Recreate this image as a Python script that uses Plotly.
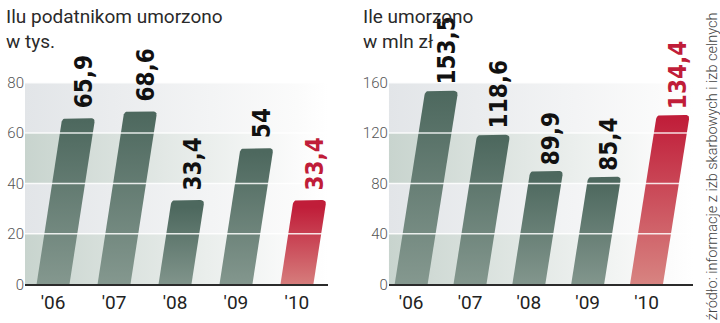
import plotly.graph_objects as go

# ---- data ----
years = ["'06", "'07", "'08", "'09", "'10"]
taxpayers_k = [65.9, 68.6, 33.4, 54, 33.4]          # Ilu podatnikom umorzono (tys.)
amount_mln = [153.5, 118.6, 89.9, 85.4, 134.4]      # Ile umorzono (mln zł)
labels_left = ["65,9", "68,6", "33,4", "54", "33,4"]
labels_right = ["153,5", "118,6", "89,9", "85,4", "134,4"]
ticks_left = [0, 20, 40, 60, 80]
ticks_right = [0, 40, 80, 120, 160]
title_left = "Ilu podatnikom umorzono<br>w tys."
title_right = "Ile umorzono<br>w mln zł"
source = "źródło: informacje z izb skarbowych i izb celnych"

# ---- styles ----
GREEN = ["#889b92", "#4d685e"]   # bottom, top
RED = ["#d98b86", "#c01d39"]
BAND_GREEN = "#c8d4ce"
BAND_GRAY = "#e2e5e8"
TXT = "#222222"
FONT = "Roboto, 'Open Sans', sans-serif"
LABEL_FONT = "'Liberation Sans Narrow', 'DejaVu Sans Condensed', Roboto, sans-serif"

panels = [
    dict(vals=taxpayers_k, labels=labels_left, ticks=ticks_left, xr=[-0.46, 4.51],
         dom=[0.0347, 0.4556], slant=0.51, w=0.54, rx=0.07, ry=1.7, gap=8,
         ax="", title=title_left, tx=0.006),
    dict(vals=amount_mln, labels=labels_right, ticks=ticks_right, xr=[-0.38, 4.79],
         dom=[0.540, 0.9625], slant=0.54, w=0.56, rx=0.075, ry=3.4, gap=4,
         ax="2", title=title_right, tx=0.502),
]

fig = go.Figure()
annotations = []
shapes = []


def bezier(p0, p1, p2, n=6):
    pts = []
    for k in range(n + 1):
        t = k / n
        x = (1 - t) ** 2 * p0[0] + 2 * (1 - t) * t * p1[0] + t ** 2 * p2[0]
        y = (1 - t) ** 2 * p0[1] + 2 * (1 - t) * t * p1[1] + t ** 2 * p2[1]
        pts.append((x, y))
    return pts


for p in panels:
    xa = "x" + p["ax"]
    ya = "y" + p["ax"]
    ymax = p["ticks"][-1]
    # background bands fading to white
    for j in range(len(p["ticks"]) - 1):
        y0, y1 = p["ticks"][j], p["ticks"][j + 1]
        col = BAND_GREEN if j % 2 == 0 else BAND_GRAY
        fig.add_trace(go.Scatter(
            x=[p["xr"][0], p["xr"][1], p["xr"][1], p["xr"][0], p["xr"][0]],
            y=[y0, y0, y1, y1, y0], mode="lines", line=dict(width=0),
            fill="toself", hoverinfo="skip", showlegend=False,
            fillgradient=dict(type="horizontal", start=p["xr"][0], stop=p["xr"][1],
                              colorscale=[[0, col], [0.9, "#fbfbfb"], [1, "#ffffff"]]),
            xaxis=xa, yaxis=ya))
    # slanted bars
    n = len(p["vals"])
    for i, v in enumerate(p["vals"]):
        dxdy = p["slant"] / ymax
        x0 = i - p["w"] / 2
        xl_top = x0 + dxdy * v
        xr_top = xl_top + p["w"]
        rx, ry = p["rx"], p["ry"]
        pts = [(x0, 0), (x0 + p["w"], 0)]
        pts += bezier((xr_top - dxdy * ry, v - ry), (xr_top, v), (xr_top - rx, v))
        pts += bezier((xl_top + rx, v), (xl_top, v), (xl_top - dxdy * ry, v - ry))
        pts.append((x0, 0))
        cs = RED if i == n - 1 else GREEN
        fig.add_trace(go.Scatter(
            x=[q[0] for q in pts], y=[q[1] for q in pts], mode="lines",
            line=dict(width=0), fill="toself", hoverinfo="skip", showlegend=False,
            fillgradient=dict(type="vertical", start=0, stop=v,
                              colorscale=[[0, cs[0]], [1, cs[1]]]),
            xaxis=xa, yaxis=ya))
        annotations.append(dict(
            x=i + dxdy * v, y=v, xref=xa, yref=ya, text="<b>%s</b>" % p["labels"][i],
            textangle=-90, showarrow=False, xanchor="center", yanchor="bottom",
            yshift=p["gap"], xshift=5,
            font=dict(family=LABEL_FONT, size=24, color=RED[1] if i == n - 1 else "#111111")))
    # white gridlines above bars
    for t in p["ticks"][1:]:
        shapes.append(dict(type="line", xref=xa + " domain", yref=ya, x0=0, x1=1,
                           y0=t, y1=t, layer="above",
                           line=dict(color="rgba(255,255,255,0.85)", width=1.5)))
    annotations.append(dict(
        x=p["tx"], y=1.0, xref="paper", yref="paper", xanchor="left", yanchor="top",
        yshift=6, text=p["title"], showarrow=False, align="left",
        font=dict(family=FONT, size=19, color="#2a2a2a")))

annotations.append(dict(
    x=0.989, y=0.485, xref="paper", yref="paper", xanchor="center", yanchor="middle",
    text=source, textangle=-90, showarrow=False,
    font=dict(family=FONT, size=14.5, color="#444444", weight=300)))

common_x = dict(showgrid=False, zeroline=False, showline=True, linecolor="#2b2b2b",
                linewidth=2, ticks="", tickfont=dict(family=FONT, size=19, color=TXT),
                layer="above traces", fixedrange=True)
common_y = dict(showgrid=False, zeroline=False, showline=False, ticks="",
                tickfont=dict(family=FONT, size=15, color="#555555", weight=300),
                fixedrange=True)

fig.update_layout(
    width=720, height=323, margin=dict(l=0, r=0, t=0, b=0),
    paper_bgcolor="white", plot_bgcolor="white", showlegend=False,
    xaxis=dict(domain=panels[0]["dom"], range=panels[0]["xr"], tickvals=list(range(len(years))),
               ticktext=years, anchor="y", **common_x),
    yaxis=dict(domain=[0.0975, 0.7585], range=[0, ticks_left[-1]], tickvals=ticks_left,
               anchor="x", **common_y),
    xaxis2=dict(domain=panels[1]["dom"], range=panels[1]["xr"], tickvals=list(range(len(years))),
                ticktext=years, anchor="y2", **common_x),
    yaxis2=dict(domain=[0.0975, 0.7585], range=[0, ticks_right[-1]], tickvals=ticks_right,
                anchor="x2", **common_y),
    annotations=annotations, shapes=shapes,
)

fig.write_html("out.html")
